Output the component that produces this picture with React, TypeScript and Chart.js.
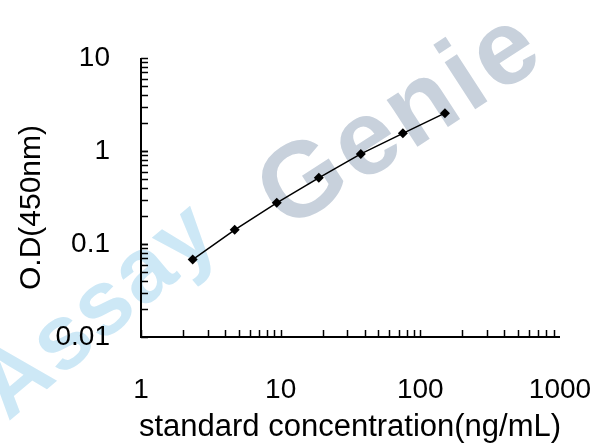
import React, { useEffect, useRef } from "react";
import { Chart, registerables } from "chart.js";

Chart.register(...registerables);

// ---- data ----
const concentrations = [2.34375, 4.6875, 9.375, 18.75, 37.5, 75, 150];
const odValues = [0.068, 0.142, 0.277, 0.515, 0.93, 1.55, 2.55];
const xTickValues = [1, 10, 100, 1000];
const xTickLabels = ["1", "10", "100", "1000"];
const yTickValues = [0.01, 0.1, 1, 10];
const yTickLabels = ["0.01", "0.1", "1", "10"];
const xTitle = "standard concentration(ng/mL)";
const yTitle = "O.D(450nm)";
const watermarkA = "Assay";
const watermarkB = "Genie";

const FAMILY = "'Liberation Sans', Arial, Helvetica, sans-serif";

const watermarkPlugin = {
  id: "watermark",
  beforeDraw(chart: any) {
    const ctx = chart.ctx as CanvasRenderingContext2D;
    ctx.save();
    ctx.textBaseline = "alphabetic";
    ctx.textAlign = "left";
    ctx.translate(8, 422);
    ctx.rotate((-40 * Math.PI) / 180);
    ctx.font = `bold 92px ${FAMILY}`;
    (ctx as any).letterSpacing = "2px";
    ctx.fillStyle = "#cde8f6";
    ctx.fillText(watermarkA, 0, 0);
    ctx.restore();

    ctx.save();
    ctx.textBaseline = "alphabetic";
    ctx.textAlign = "left";
    ctx.translate(286, 232);
    ctx.rotate((-33 * Math.PI) / 180);
    ctx.font = `bold 106px ${FAMILY}`;
    (ctx as any).letterSpacing = "4px";
    ctx.fillStyle = "#c8d1dc";
    ctx.fillText(watermarkB, 0, 0);
    ctx.restore();
  },
};

const axesPlugin = {
  id: "axesFrame",
  beforeDatasetsDraw(chart: any) {
    const ctx = chart.ctx as CanvasRenderingContext2D;
    const xs = chart.scales.x;
    const ys = chart.scales.y;
    const { left, right, top, bottom } = chart.chartArea;
    ctx.save();
    ctx.strokeStyle = "#000";
    // ticks
    ctx.lineWidth = 1.5;
    const tickLen = 7;
    for (let d = 0; d < 3; d++) {
      for (let m = 1; m <= 9; m++) {
        const v = m * Math.pow(10, d);
        const px = Math.round(xs.getPixelForValue(v)) + 0.5;
        ctx.beginPath();
        ctx.moveTo(px, bottom);
        ctx.lineTo(px, bottom - tickLen);
        ctx.stroke();
      }
    }
    for (let d = -2; d < 1; d++) {
      for (let m = 1; m <= 10; m++) {
        const v = m * Math.pow(10, d);
        const py = Math.round(ys.getPixelForValue(v)) + 0.5;
        ctx.beginPath();
        ctx.moveTo(left, py);
        ctx.lineTo(left + tickLen, py);
        ctx.stroke();
      }
    }
    // axis lines
    ctx.lineWidth = 2;
    ctx.beginPath();
    ctx.moveTo(left, top);
    ctx.lineTo(left, bottom);
    ctx.lineTo(right, bottom);
    ctx.stroke();

    // titles
    ctx.fillStyle = "#000";
    ctx.textBaseline = "middle";
    ctx.textAlign = "center";
    ctx.font = `31px ${FAMILY}`;
    ctx.fillText(xTitle, 350, 427.5);
    ctx.save();
    ctx.translate(32, 207.5);
    ctx.rotate(-Math.PI / 2);
    ctx.font = `30px ${FAMILY}`;
    ctx.fillText(yTitle, 0, 0);
    ctx.restore();
    ctx.restore();
  },
};

export default function App() {
  const canvasRef = useRef<HTMLCanvasElement | null>(null);

  useEffect(() => {
    if (!canvasRef.current) return;
    const chart = new Chart(canvasRef.current, {
      type: "scatter",
      data: {
        datasets: [
          {
            data: concentrations.map((x, i) => ({ x, y: odValues[i] })),
            showLine: true,
            borderColor: "#000",
            borderWidth: 1.5,
            pointStyle: "rectRot",
            pointRadius: 5,
            pointBackgroundColor: "#000",
            pointBorderColor: "#000",
            pointBorderWidth: 0,
            tension: 0,
          },
        ],
      },
      options: {
        animation: false,
        responsive: false,
        maintainAspectRatio: false,
        events: [],
        layout: { padding: { top: 58, right: 48, bottom: 0, left: 0 } },
        plugins: { legend: { display: false }, tooltip: { enabled: false } },
        scales: {
          x: {
            type: "logarithmic",
            position: "bottom",
            min: 1,
            max: 1000,
            grid: { display: false, drawTicks: false },
            border: { display: false },
            afterBuildTicks: (s: any) => {
              s.ticks = xTickValues.map((v) => ({ value: v }));
            },
            afterFit: (s: any) => {
              s.height = 110;
              s.paddingLeft = 0;
              s.paddingRight = 0;
            },
            ticks: {
              autoSkip: false,
              maxRotation: 0,
              minRotation: 0,
              padding: 36,
              color: "#000",
              font: { family: FAMILY, size: 28 },
              callback: (v: any) => {
                const i = xTickValues.indexOf(Number(v));
                return i >= 0 ? xTickLabels[i] : "";
              },
            },
          },
          y: {
            type: "logarithmic",
            position: "left",
            min: 0.01,
            max: 10,
            grid: { display: false, drawTicks: false },
            border: { display: false },
            afterBuildTicks: (s: any) => {
              s.ticks = yTickValues.map((v) => ({ value: v }));
            },
            afterFit: (s: any) => {
              s.width = 141;
              s.paddingTop = 0;
              s.paddingBottom = 0;
            },
            ticks: {
              autoSkip: false,
              padding: 31,
              color: "#000",
              font: { family: FAMILY, size: 28 },
              callback: (v: any) => {
                const i = yTickValues.findIndex((t) => Math.abs(t - Number(v)) < 1e-9);
                return i >= 0 ? yTickLabels[i] : "";
              },
            },
          },
        },
      },
      plugins: [watermarkPlugin, axesPlugin],
    });
    return () => chart.destroy();
  }, []);

  return (
    <div style={{ position: "fixed", left: 0, top: 0, width: 608, height: 447, background: "#fff" }}>
      <canvas ref={canvasRef} width={608} height={447} style={{ display: "block" }} />
    </div>
  );
}
